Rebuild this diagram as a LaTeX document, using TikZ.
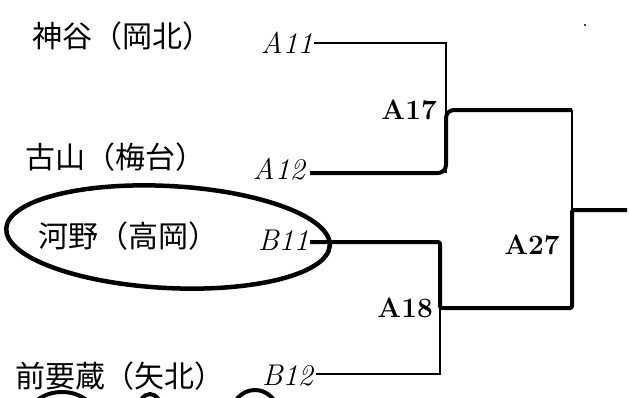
\documentclass[tikz,border=0pt]{standalone}
\usepackage{fontspec}
\newfontfamily\jp{Noto Sans CJK JP}
\begin{document}
\begin{tikzpicture}[x=1pt,y=-1pt,
  entrant/.style={font=\jp\fontsize{30}{32}\selectfont, inner sep=0pt},
  seedlbl/.style={font=\itshape\fontsize{30}{32}\selectfont, inner sep=1pt},
  matchlbl/.style={font=\bfseries\fontsize{28}{30}\selectfont, inner sep=1pt},
  thinline/.style={line width=1.4pt},
  winline/.style={line width=4pt, line join=round}]
\useasboundingbox (0,0) rectangle (629,397);
% entrants
\node[entrant] (n1) at (122,36) {神谷（岡北）};
\node[entrant] (n2) at (115,157) {古山（梅台）};
\node[entrant] (n3) at (128,236) {河野（高岡）};
\node[entrant] (n4) at (120,376) {前要蔵（矢北）};
\node[seedlbl, anchor=east] (a11) at (314,43) {A11};
\node[seedlbl, anchor=east] (a12) at (306,169) {A12};
\node[seedlbl, anchor=east] (b11) at (310,240) {B11};
\node[seedlbl, anchor=east] (b12) at (314,376) {B12};
% match labels
\node[matchlbl, anchor=east] (m17) at (438,110) {A17};
\node[matchlbl, anchor=east] (m18) at (434,308) {A18};
\node[matchlbl] (m27) at (532,245) {A27};
% junctions
\coordinate (c11) at (446,43);
\coordinate (c12) at (446,173);
\coordinate (c12e) at (310,173);
\coordinate (j17) at (446,110);
\coordinate (r17) at (572,110);
\coordinate (j27) at (572,210);
\coordinate (out) at (627,210);
\coordinate (b11e) at (310,242);
\coordinate (d11) at (440,242);
\coordinate (j18) at (440,308);
\coordinate (r18) at (572,308);
\coordinate (d12) at (440,374);
\coordinate (b12e) at (316,374);
% thin lines
\draw[thinline] (a11.east) -- (c11) -- (c12);
\draw[thinline] (r17) -- (j27);
\draw[thinline] (b12e) -- (d12) -- (j18);
% winner lines
\draw[winline, rounded corners=8pt] (c12e) -- (c12) -- (j17) -- (r17);
\draw[winline, rounded corners=2pt] (b11e) -- (d11) -- (j18) -- (r18) -- (j27) -- (out);
% circle around winner
\draw[line width=4.5pt, rotate around={-3:(168,237)}] (168,237) ellipse [x radius=162, y radius=51];
% partial circles at bottom edge
\begin{scope}
\clip (0,0) rectangle (629,397);
\draw[line width=4pt] (62,418) ellipse [x radius=34, y radius=26];
\draw[line width=4pt] (150,412) ellipse [x radius=12, y radius=18];
\draw[line width=4pt] (255,416) ellipse [x radius=24, y radius=26];
\end{scope}
\fill (585,25) circle (1.2);
\end{tikzpicture}
\end{document}
